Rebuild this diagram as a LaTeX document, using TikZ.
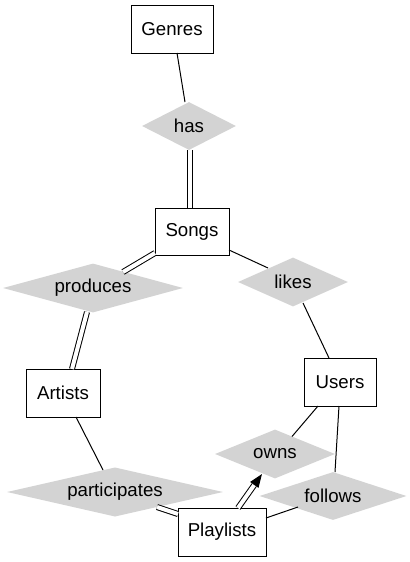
\documentclass[tikz,border=0pt]{standalone}
\usepackage{fontspec}
\setmainfont{Liberation Sans}
\usetikzlibrary{shapes.geometric,arrows.meta,calc}
\definecolor{relgray}{HTML}{D3D3D3}
\begin{document}
\begin{tikzpicture}[x=0.75pt,y=-0.75pt,
  ent/.style={draw,line width=0.75pt,rectangle,inner sep=0pt,font=\fontsize{14}{16}\selectfont},
  rel/.style={diamond,fill=relgray,draw=none,inner sep=0pt,aspect=3,font=\fontsize{14}{16}\selectfont},
  sgl/.style={line width=0.75pt},
  dbl/.style={line width=0.75pt,double,double distance=3pt}]
\useasboundingbox (0,0) rectangle (410,562);
\node[ent,minimum width=82*0.75pt,minimum height=48*0.75pt] (ge) at (172,29) {Genres};
\node[rel,minimum width=94*0.75pt,minimum height=48*0.75pt] (has) at (189,126) {has};
\node[ent,minimum width=74*0.75pt,minimum height=47*0.75pt] (so) at (192,231.5) {Songs};
\node[rel,minimum width=180*0.75pt,minimum height=49*0.75pt] (pr) at (93,288) {produces};
\node[rel,minimum width=110*0.75pt,minimum height=49*0.75pt] (li) at (293,282) {likes};
\node[ent,minimum width=74*0.75pt,minimum height=48*0.75pt] (ar) at (63,393) {Artists};
\node[ent,minimum width=72*0.75pt,minimum height=48*0.75pt] (us) at (340,382) {Users};
\node[rel,minimum width=120*0.75pt,minimum height=49*0.75pt] (ow) at (275,454) {owns};
\node[rel,minimum width=147*0.75pt,minimum height=48*0.75pt] (fo) at (333,496) {follows};
\node[rel,minimum width=216*0.75pt,minimum height=49*0.75pt] (pa) at (115,492) {participates};
\node[ent,minimum width=88*0.75pt,minimum height=48*0.75pt] (pl) at (222,532) {Playlists};

\draw[sgl] ($(ge)+(5,24)$) -- ($(has)+(-4,-24)$);
\draw[dbl] ($(has)+(1,24)$) -- ($(so)+(-2,-23.5)$);
\draw[dbl] ($(so)+(-37,21.5)$) -- ($(pr)+(30,-16)$);
\draw[dbl] ($(pr)+(-6,24)$) -- ($(ar)+(9,-24)$);
\draw[sgl] ($(so)+(37,18.5)$) -- ($(li)+(-25,-14)$);
\draw[sgl] ($(li)+(10,21)$) -- ($(us)+(-11,-24)$);
\draw[sgl] ($(ar)+(13,24)$) -- ($(pa)+(-12,-22)$);
\draw[sgl] ($(us)+(-22,24)$) -- ($(ow)+(17,-17.5)$);
\draw[sgl] ($(us)+(-1,24)$) -- ($(fo)+(2,-24)$);
\draw[dbl] ($(pa)+(42,15)$) -- ($(pl)+(-44,-18)$);
\draw[sgl] ($(fo)+(-35,11)$) -- ($(pl)+(44,-14)$);
\coordinate (plst) at ($(pl)+(16,-24)$);
\coordinate (owtip) at ($(ow)+(-13,20)$);
\coordinate (ab) at ($(owtip)!10pt!(plst)$);
\draw[dbl] (plst) -- (ab);
\draw[sgl,-{Triangle[length=10pt,width=7.5pt]}] (ab) -- (owtip);
\end{tikzpicture}
\end{document}
